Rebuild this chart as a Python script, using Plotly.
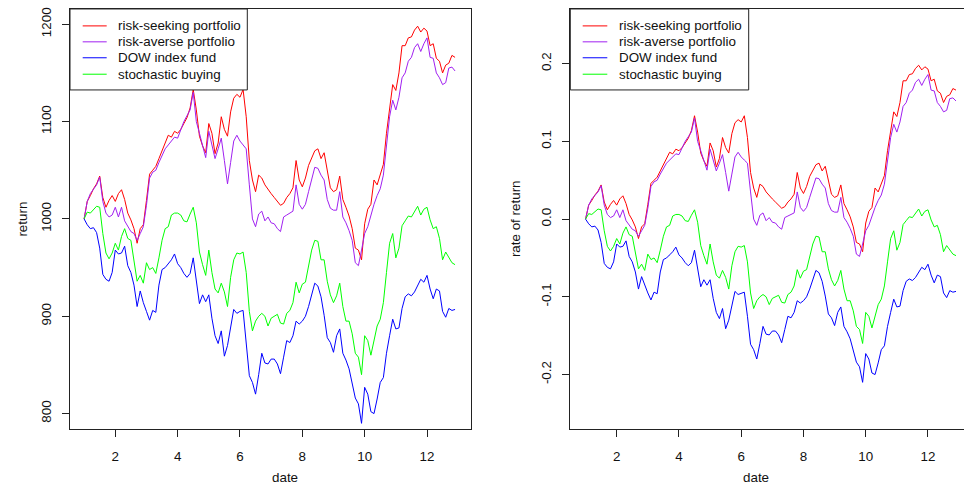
import plotly.graph_objects as go

# ---- data ----
dates = [1.0, 1.1, 1.2, 1.3, 1.4, 1.5, 1.6, 1.7, 1.8, 1.9,
         2.0, 2.1, 2.2, 2.3, 2.4, 2.5, 2.6, 2.7, 2.8, 2.9,
         3.0, 3.1, 3.2, 3.3, 3.4, 3.5, 3.6, 3.7, 3.8, 3.9,
         4.0, 4.1, 4.2, 4.3, 4.4, 4.5, 4.6, 4.7, 4.8, 4.9,
         5.0, 5.1, 5.2, 5.3, 5.4, 5.5, 5.6, 5.7, 5.8, 5.9,
         6.0, 6.1, 6.2, 6.3, 6.4, 6.5, 6.6, 6.7, 6.8, 6.9,
         7.0, 7.1, 7.2, 7.3, 7.4, 7.5, 7.6, 7.7, 7.8, 7.9,
         8.0, 8.1, 8.2, 8.3, 8.4, 8.5, 8.6, 8.7, 8.8, 8.9,
         9.0, 9.1, 9.2, 9.3, 9.4, 9.5, 9.6, 9.7, 9.8, 9.9,
         10.0, 10.1, 10.2, 10.3, 10.4, 10.5, 10.6, 10.7, 10.8, 10.9,
         11.0, 11.1, 11.2, 11.3, 11.4, 11.5, 11.6, 11.7, 11.8, 11.9,
         12.0, 12.1, 12.2, 12.3, 12.4, 12.5, 12.6, 12.7, 12.8, 12.9]

risk_seeking = [1000, 1018, 1024, 1031, 1036, 1044, 1022, 1012, 1019, 1024,
                1018, 1026, 1030, 1020, 1006, 999, 990, 975, 990, 994,
                1019, 1046, 1050, 1054, 1062, 1070, 1080, 1086, 1084, 1090,
                1088, 1092, 1098, 1104, 1114, 1133, 1112, 1085, 1075, 1068,
                1098, 1088, 1067, 1078, 1105, 1092, 1085, 1110, 1124, 1128,
                1125, 1133, 1105, 1060, 1040, 1028, 1045, 1042, 1035, 1030,
                1026, 1022, 1018, 1014, 1016, 1022, 1026, 1032, 1060, 1040,
                1033, 1042, 1055, 1063, 1070, 1072, 1062, 1068, 1048, 1032,
                1028, 1030, 1044, 1020, 1012, 1003, 990, 970, 968, 958,
                995, 1010, 1015, 1040, 1035, 1046, 1056, 1088, 1115, 1138,
                1132, 1150, 1178, 1178, 1186, 1187, 1194, 1198, 1192, 1196,
                1193, 1178, 1180, 1165, 1162, 1150, 1158, 1160, 1168, 1166]

risk_averse = [1000, 1018, 1026, 1031, 1035, 1043, 1018, 1006, 1002, 1004,
               1012, 1002, 1012, 998, 992, 987, 985, 978, 985, 992,
               1014, 1042, 1048, 1050, 1058, 1065, 1072, 1076, 1080, 1084,
               1083, 1092, 1100, 1106, 1112, 1130, 1100, 1088, 1075, 1063,
               1090, 1075, 1062, 1072, 1083, 1060, 1036, 1058, 1080, 1086,
               1080, 1076, 1072, 1035, 1000, 992, 1005, 1008, 998, 1002,
               996, 995, 990, 987, 1002, 1004, 1006, 1008, 1035, 1015,
               1010, 1015, 1028, 1042, 1053, 1052, 1045, 1040, 1020, 1011,
               1009, 1009, 1028, 1002, 996, 988, 978, 955, 952, 968,
               985, 992, 1005, 1015, 1024, 1031, 1045, 1078, 1105, 1122,
               1112, 1125, 1145, 1150, 1162, 1166, 1176, 1180, 1172, 1180,
               1186, 1166, 1165, 1150, 1145, 1138, 1140, 1155, 1156, 1152]

dow_index = [1000, 994, 990, 991, 986, 970, 943, 938, 936, 945,
             968, 964, 965, 972, 952, 945, 932, 910, 926, 914,
             905, 896, 906, 904, 932, 948, 950, 954, 958, 964,
             954, 950, 944, 940, 944, 960, 934, 913, 922, 915,
             922, 898, 880, 872, 885, 859, 870, 888, 907, 903,
             905, 906, 875, 839, 832, 820, 840, 862, 852, 851,
             856, 856, 851, 841, 858, 875, 873, 880, 895, 892,
             895, 900, 910, 922, 934, 931, 920, 901, 878, 873,
             863, 880, 887, 862, 855, 846, 829, 816, 810, 790,
             827, 820, 802, 800, 815, 832, 837, 862, 880, 897,
             887, 888, 908, 920, 923, 921, 925, 932, 938, 935,
             942, 928, 918, 928, 926, 905, 899, 908, 906, 907]

stochastic = [1000, 1007, 1006, 1010, 1013, 1012, 985, 965, 959, 965,
              975, 968, 982, 990, 980, 978, 955, 936, 942, 934,
              955, 948, 950, 944, 960, 978, 990, 992, 1004, 1006,
              1006, 1004, 998, 997, 1005, 1012, 996, 966, 953, 942,
              968, 945, 928, 924, 934, 925, 910, 940, 958, 965,
              964, 966, 945, 905, 885, 895, 900, 903, 900, 890,
              898, 900, 902, 893, 892, 903, 906, 914, 935, 924,
              933, 935, 950, 968, 978, 977, 958, 958, 936, 922,
              914, 921, 934, 910, 895, 895, 882, 862, 858, 840,
              880, 875, 860, 876, 890, 897, 914, 945, 975, 985,
              960, 970, 993, 998, 1003, 1002, 1008, 1013, 1004, 1010,
              1012, 999, 990, 992, 980, 958, 966, 960, 955, 953]

series_names = ["risk-seeking portfolio", "risk-averse portfolio",
                "DOW index fund", "stochastic buying"]
series_values = [risk_seeking, risk_averse, dow_index, stochastic]
series_colors = ["#FF0000", "#A020F0", "#0000FF", "#00FF00"]

initial_investment = 1000
x_ticks = [2, 4, 6, 8, 10, 12]
left_y_ticks = [800, 900, 1000, 1100, 1200]
right_y_ticks = [-0.2, -0.1, 0.0, 0.1, 0.2]
right_y_ticktext = ["-0.2", "-0.1", "0.0", "0.1", "0.2"]

# ---- figure ----
W, H = 964, 498
FONT = "Liberation Sans, Arial, Helvetica, sans-serif"
TXT = "#111"
FS = 13.4

fig = go.Figure()

for name, vals, col in zip(series_names, series_values, series_colors):
    fig.add_trace(go.Scatter(x=dates, y=vals, mode="lines", name=name,
                             line=dict(color=col, width=1),
                             xaxis="x", yaxis="y", showlegend=False))
for name, vals, col in zip(series_names, series_values, series_colors):
    rate = [v / initial_investment - 1 for v in vals]
    fig.add_trace(go.Scatter(x=dates, y=rate, mode="lines", name=name,
                             line=dict(color=col, width=1),
                             xaxis="x2", yaxis="y2", showlegend=False))


def px_x(p):
    return p / W


def px_y(p):
    return 1 - p / H


L1, R1 = px_x(70), px_x(470.7)
L2, R2 = px_x(570), 1.0
B, T = px_y(429), px_y(7)

axis_common = dict(showgrid=False, zeroline=False, showline=True,
                   linecolor="#222", linewidth=1, ticks="outside",
                   ticklen=7, tickwidth=1, tickcolor="#222",
                   tickfont=dict(family=FONT, size=FS, color=TXT))

fig.update_layout(
    width=W, height=H,
    margin=dict(l=0, r=0, t=0, b=0),
    paper_bgcolor="white", plot_bgcolor="white",
    font=dict(family=FONT, size=FS, color=TXT),
    showlegend=False,
    xaxis=dict(domain=[L1, R1], range=[0.547, 13.402], anchor="y",
               tickvals=x_ticks, mirror=True, ticklabelstandoff=8,
               **axis_common),
    yaxis=dict(domain=[B, T], range=[783.9, 1215.7], anchor="x",
               tickvals=left_y_ticks, tickangle=-90, mirror=True,
               ticklabelstandoff=6, **axis_common),
    xaxis2=dict(domain=[L2, R2], range=[0.5, 13.157], anchor="y2",
                tickvals=x_ticks, mirror=True, ticklabelstandoff=8,
                **axis_common),
    yaxis2=dict(domain=[B, T], range=[-0.2704, 0.2704], anchor="x2",
                tickvals=right_y_ticks, ticktext=right_y_ticktext,
                tickangle=-90, ticklabelstandoff=6, **axis_common),
)

# legends (box, line samples, labels) for both panels
legend_specs = [  # box left, box right, line x0, line x1, text x
    (70, 247.3, 82.7, 106.7, 116.0),
    (570.3, 748.7, 582.7, 607.3, 617.0),
]
row_y = [24, 40, 56, 72.5]
for bl, br, lx0, lx1, tx in legend_specs:
    fig.add_shape(type="rect", xref="paper", yref="paper",
                  x0=px_x(bl), x1=px_x(br), y0=px_y(88.3), y1=px_y(7),
                  line=dict(color="#222", width=1), fillcolor="white",
                  layer="above")
    for name, col, ry in zip(series_names, series_colors, row_y):
        fig.add_shape(type="line", xref="paper", yref="paper",
                      x0=px_x(lx0), x1=px_x(lx1), y0=px_y(ry), y1=px_y(ry),
                      line=dict(color=col, width=1), layer="above")
        fig.add_annotation(text=name, x=px_x(tx), y=px_y(ry),
                           xref="paper", yref="paper", showarrow=False,
                           xanchor="left", yanchor="middle",
                           font=dict(family=FONT, size=FS, color=TXT))

# axis titles
fig.add_annotation(text="date", x=px_x((70 + 470.7) / 2), y=px_y(487),
                   xref="paper", yref="paper", showarrow=False,
                   font=dict(family=FONT, size=FS, color=TXT))
fig.add_annotation(text="date", x=px_x(771), y=px_y(487),
                   xref="paper", yref="paper", showarrow=False,
                   font=dict(family=FONT, size=FS, color=TXT))
fig.add_annotation(text="return", x=px_x(13), y=px_y(218), textangle=-90,
                   xref="paper", yref="paper", showarrow=False,
                   font=dict(family=FONT, size=FS, color=TXT))
fig.add_annotation(text="rate of return", x=px_x(515), y=px_y(218),
                   textangle=-90, xref="paper", yref="paper",
                   showarrow=False,
                   font=dict(family=FONT, size=FS, color=TXT))

fig.write_html("out.html",
               config={"displayModeBar": False, "staticPlot": True},
               post_script="document.body.style.margin='0';"
                           "document.body.style.overflow='hidden';")
